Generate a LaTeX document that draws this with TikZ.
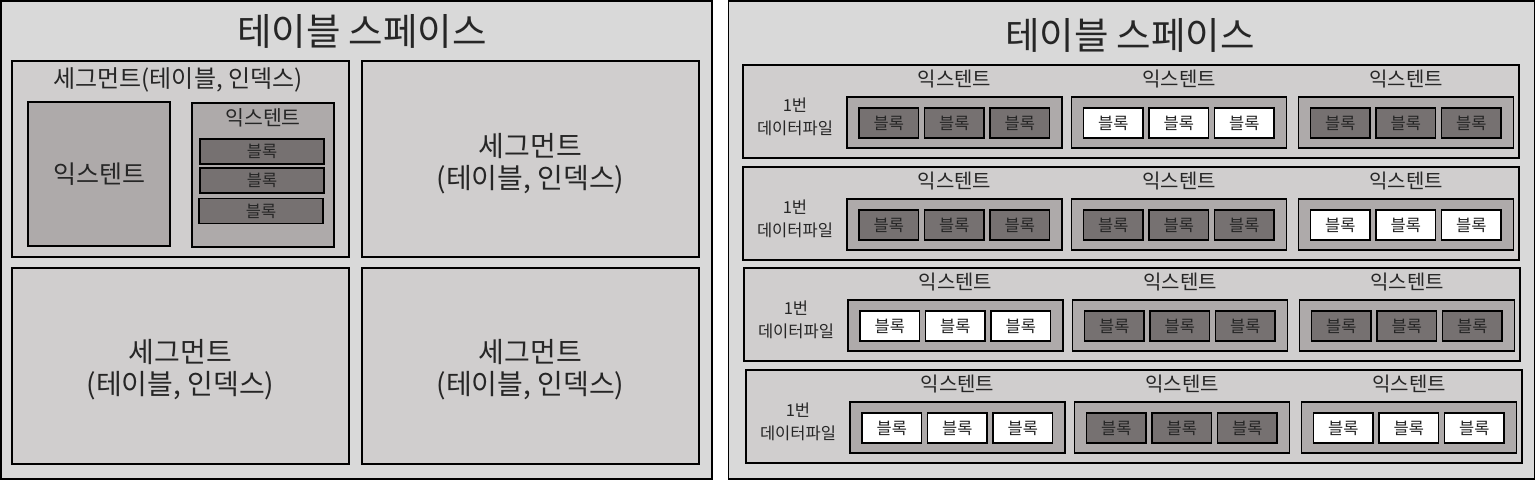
\documentclass[tikz,border=0pt]{standalone}
\usepackage{fontspec}
\setmainfont{Noto Sans CJK KR}
\definecolor{bgA}{HTML}{D9D9D9}
\definecolor{segC}{HTML}{D0CECE}
\definecolor{extC}{HTML}{AEAAAA}
\definecolor{blkC}{HTML}{767171}
\definecolor{txtC}{HTML}{262626}
\tikzset{
  box/.style={draw=black, line width=1.4pt, inner sep=0pt, outer sep=0pt},
  panel/.style={box, line width=1.8pt, fill=bgA},
  seg/.style={box, fill=segC},
  ext/.style={box, fill=extC},
  blk/.style={box, line width=1.6pt},
  lbl/.style={inner sep=0pt, text=txtC, align=center},
}
\begin{document}
\begin{tikzpicture}[x=1pt,y=-1pt]
\useasboundingbox (0,0) rectangle (1536,480);
\fill[white] (0,0) rectangle (1536,480);
% panels
\node[panel, minimum width=711pt, minimum height=478pt] (lp) at (356.5,240) {};
\node[panel, minimum width=806pt, minimum height=478pt] (rp) at (1131.5,240) {};
\node[lbl, font=\fontsize{37.5}{44}\selectfont] (lt) at (362,31) {테이블 스페이스};
\node[lbl, font=\fontsize{37.5}{44}\selectfont] (rt) at (1130,35) {테이블 스페이스};
% left segments
\node[seg, minimum width=337pt, minimum height=196pt] (s1) at (180.5,159) {};
\node[seg, minimum width=337pt, minimum height=196pt] (s2) at (530.5,159) {};
\node[seg, minimum width=337pt, minimum height=196pt] (s3) at (180.5,366) {};
\node[seg, minimum width=337pt, minimum height=196pt] (s4) at (530.5,366) {};
\node[lbl, font=\fontsize{28}{32}\selectfont] (s2t) at (530.5,164) {세그먼트\\(테이블, 인덱스)};
\node[lbl, font=\fontsize{28}{32}\selectfont] (s3t) at (180.5,370) {세그먼트\\(테이블, 인덱스)};
\node[lbl, font=\fontsize{28}{32}\selectfont] (s4t) at (530.5,370) {세그먼트\\(테이블, 인덱스)};
\node[lbl, font=\fontsize{24}{28}\selectfont] (s1t) at (178,80) {세그먼트(테이블, 인덱스)};
\node[ext, minimum width=142pt, minimum height=144pt] (xa) at (99,174) {};
\node[lbl, font=\fontsize{25}{28}\selectfont] (xat) at (xa) {익스텐트};
\node[ext, minimum width=142pt, minimum height=144pt] (xb) at (263,175) {};
\node[lbl, font=\fontsize{20.5}{24}\selectfont] (xbt) at (263,118) {익스텐트};
\node[blk, fill=blkC, minimum width=124pt, minimum height=25pt] (ba) at (262,151.5) {};
\node[blk, fill=blkC, minimum width=124pt, minimum height=25pt] (bb) at (262,180.5) {};
\node[blk, fill=blkC, minimum width=124pt, minimum height=25pt] (bc) at (261,211) {};
\node[lbl, font=\fontsize{16.5}{18}\selectfont] at (ba) {블록};
\node[lbl, font=\fontsize{16.5}{18}\selectfont] at (bb) {블록};
\node[lbl, font=\fontsize{16.5}{18}\selectfont] at (bc) {블록};
% right rows
\foreach \i/\top/\dx/\pa/\pb/\pc in {1/65/0/blkC/white/blkC, 2/167/0/blkC/blkC/white, 3/268/1/white/blkC/blkC, 4/370/3/white/blkC/white}{
  \node[seg, minimum width=776pt, minimum height=93pt] (r\i) at ({743+\dx+388},{\top+46.5}) {};
  \node[lbl, font=\fontsize{16.5}{23}\selectfont] (d\i) at ({795+\dx},{\top+51.5}) {1번\\데이터파일};
  \foreach \j/\ex/\p in {1/847/\pa, 2/1071.5/\pb, 3/1298.5/\pc}{
    \node[ext, minimum width=215pt, minimum height=51pt] (e\i\j) at ({\ex+\dx+107.5},{\top+57.5}) {};
    \node[lbl, font=\fontsize{20}{23}\selectfont] (et\i\j) at ({\ex+\dx+107.5},{\top+14}) {익스텐트};
    \foreach \k/\bo in {1/12, 2/77.5, 3/143}{
      \node[blk, fill=\p, minimum width=59.5pt, minimum height=30pt] (b\i\j\k) at ({\ex+\dx+\bo+29.75},{\top+58}) {};
      \node[lbl, font=\fontsize{16.5}{18}\selectfont] at (b\i\j\k) {블록};
    }
  }
}
\end{tikzpicture}
\end{document}
